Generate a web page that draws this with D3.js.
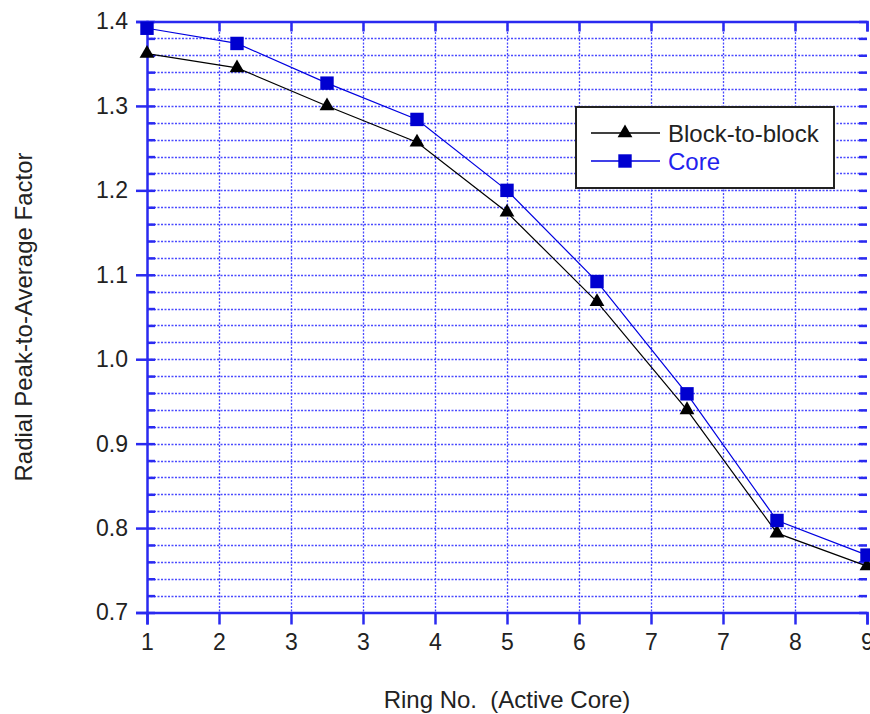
<!DOCTYPE html>
<html><head><meta charset="utf-8">
<script src="https://cdn.jsdelivr.net/npm/d3@7"></script>
<style>
html,body{margin:0;padding:0;background:#fff;overflow:hidden;}
svg{display:block;font-family:"Liberation Sans",Arial,sans-serif;}
</style></head>
<body>
<script>
const rings = [1, 2, 3, 4, 5, 6, 7, 8, 9];
const blockToBlock = [1.362, 1.345, 1.300, 1.257, 1.174, 1.068, 0.940, 0.794, 0.755];
const core = [1.392, 1.374, 1.327, 1.284, 1.200, 1.092, 0.959, 0.809, 0.768];
const xTickValues = [1, 1.8, 2.6, 3.4, 4.2, 5, 5.8, 6.6, 7.4, 8.2, 9];
const xTickLabels = ["1", "2", "3", "3", "4", "5", "6", "7", "7", "8", "9"];
const yTickValues = [0.7, 0.8, 0.9, 1.0, 1.1, 1.2, 1.3, 1.4];
const yTickLabels = ["0.7", "0.8", "0.9", "1.0", "1.1", "1.2", "1.3", "1.4"];
const yMinorValues = d3.range(0, 36).map(i => +(0.7 + i * 0.02).toFixed(2));
const seriesNames = ["Block-to-block", "Core"];

const W = 870, H = 714;
const L = 147, R = 867, T = 21.5, B = 612.5;
const axisCol = "#2a2af0", gridCol = "#4a4aff", textCol = "#222";
const FS = 23, FS2 = 24;

const svg = d3.select("body").append("svg").attr("width", W).attr("height", H);
const x = d3.scaleLinear().domain([1, 9]).range([L, R]);
const y = d3.scaleLinear().domain([0.7, 1.4]).range([B, T]);

// grid
const grid = svg.append("g");
grid.selectAll(".vg").data(xTickValues.slice(1, -1)).join("line")
  .attr("x1", d => Math.round(x(d)) + 0.5).attr("x2", d => Math.round(x(d)) + 0.5)
  .attr("y1", T).attr("y2", B)
  .attr("stroke", gridCol).attr("stroke-width", 1.3).attr("stroke-dasharray", "2,1.5");
grid.selectAll(".hg").data(yMinorValues.filter(v => v > 0.7 + 1e-9 && v < 1.4 - 1e-9)).join("line")
  .attr("x1", L).attr("x2", R)
  .attr("y1", d => Math.round(y(d)) + 0.5).attr("y2", d => Math.round(y(d)) + 0.5)
  .attr("stroke", gridCol).attr("stroke-width", 1.3).attr("stroke-dasharray", "2,1.5");

// axes
const axB = d3.axisBottom(x).tickValues(xTickValues).tickFormat((d, i) => xTickLabels[i]).tickSize(12).tickPadding(9);
const gB = svg.append("g").attr("transform", `translate(0,${B})`).call(axB);
const axT = d3.axisTop(x).tickValues(xTickValues).tickFormat("").tickSize(-10);
const gT = svg.append("g").attr("transform", `translate(0,${T})`).call(axT);
const axL = d3.axisLeft(y).tickValues(yTickValues).tickFormat((d, i) => yTickLabels[i]).tickSize(11).tickPadding(8);
const gL = svg.append("g").attr("transform", `translate(${L},0)`).call(axL);
const axLm = d3.axisLeft(y).tickValues(yMinorValues).tickFormat("").tickSize(-8);
const gLm = svg.append("g").attr("transform", `translate(${L},0)`).call(axLm);
const axR = d3.axisRight(y).tickValues(yMinorValues).tickFormat("").tickSize(-8);
const gR = svg.append("g").attr("transform", `translate(${R},0)`).call(axR);

[gB, gT, gL, gLm, gR].forEach(g => {
  g.selectAll(".domain").attr("stroke", axisCol).attr("stroke-width", 2.5);
  g.selectAll(".tick line").attr("stroke", axisCol).attr("stroke-width", 2.5);
  g.selectAll(".tick text").attr("fill", textCol).style("font-size", FS + "px")
    .style("font-family", "'Liberation Sans', Arial, sans-serif");
});
gLm.select(".domain").remove(); gR.select(".domain").remove();

// series
const line = d3.line().x((d, i) => x(rings[i])).y(d => y(d));
svg.append("path").datum(blockToBlock).attr("d", line).attr("fill", "none").attr("stroke", "#000").attr("stroke-width", 1.2);
svg.append("path").datum(core).attr("d", line).attr("fill", "none").attr("stroke", "#0000e0").attr("stroke-width", 1.2);

const tri = d3.symbol().type(d3.symbolTriangle).size(95);
const sq = d3.symbol().type(d3.symbolSquare).size(180);
svg.append("g").selectAll("path").data(blockToBlock).join("path")
  .attr("d", tri).attr("transform", (d, i) => `translate(${x(rings[i])},${y(d)})`).attr("fill", "#000");
svg.append("g").selectAll("path").data(core).join("path")
  .attr("d", sq).attr("transform", (d, i) => `translate(${x(rings[i])},${y(d)})`).attr("fill", "#0000d0");

// legend
const lg = svg.append("g");
lg.append("rect").attr("x", 576).attr("y", 107).attr("width", 258).attr("height", 81)
  .attr("fill", "#fff").attr("stroke", "#222").attr("stroke-width", 2);
const rows = [{name: seriesNames[0], col: "#000", tcol: "#222", sym: tri, mcol: "#000", yy: 133},
              {name: seriesNames[1], col: "#0000e0", tcol: "#2222ee", sym: sq, mcol: "#0000d0", yy: 161}];
rows.forEach(r => {
  lg.append("line").attr("x1", 591).attr("x2", 660).attr("y1", r.yy).attr("y2", r.yy).attr("stroke", r.col).attr("stroke-width", 1.5);
  lg.append("path").attr("d", r.sym).attr("transform", `translate(625,${r.yy})`).attr("fill", r.mcol);
  lg.append("text").attr("x", 668).attr("y", r.yy).attr("dy", "0.36em").attr("fill", r.tcol)
    .style("font-size", FS2 + "px").text(r.name);
});

// axis titles
svg.append("text").attr("x", (L + R) / 2).attr("y", 708).attr("text-anchor", "middle")
  .attr("fill", textCol).style("font-size", FS2 + "px").style("white-space", "pre")
  .text("Ring No.  (Active Core)");
svg.append("text").attr("transform", `translate(32,${(T + B) / 2}) rotate(-90)`).attr("text-anchor", "middle")
  .attr("fill", textCol).style("font-size", FS2 + "px").text("Radial Peak-to-Average Factor");
</script>
</body></html>
